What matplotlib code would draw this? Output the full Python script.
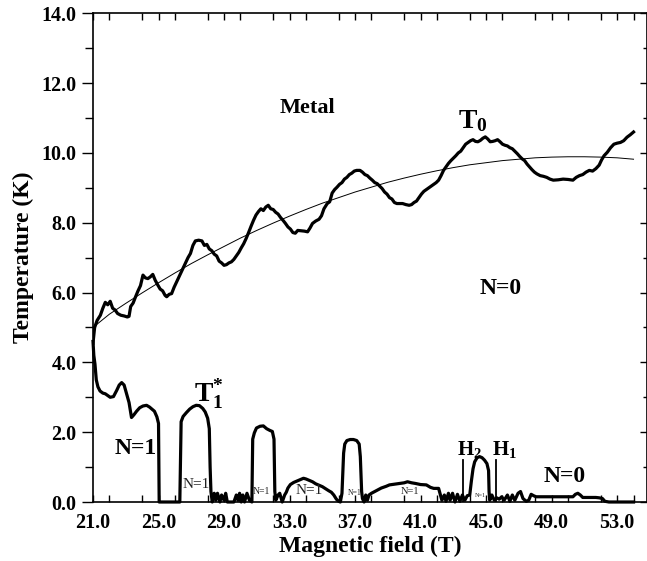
import matplotlib
matplotlib.use("Agg")
import matplotlib.pyplot as plt
from matplotlib.ticker import MultipleLocator, FormatStrFormatter

plt.rcParams['font.family'] = ['Liberation Serif', 'DejaVu Serif']
plt.rcParams['font.weight'] = 'bold'
plt.rcParams['mathtext.fontset'] = 'custom'
plt.rcParams['mathtext.rm'] = 'Liberation Serif:bold'
plt.rcParams['mathtext.bf'] = 'Liberation Serif:bold'
plt.rcParams['mathtext.it'] = 'Liberation Serif:bold'

# ---------------- data ----------------
t0_field = [21.0, 21.1, 21.25, 21.45, 21.6, 21.75, 21.9, 22.05, 22.2, 22.35, 22.5, 22.7, 22.9, 23.1, 23.2,
            23.3, 23.45, 23.6, 23.75, 23.9, 24.05, 24.2, 24.35, 24.5, 24.65, 24.8, 24.95, 25.1, 25.25, 25.4,
            25.5, 25.65, 25.8, 25.95, 26.1, 26.25, 26.4, 26.6, 26.8, 26.95, 27.1, 27.25, 27.45, 27.65, 27.8,
            27.95, 28.1, 28.25, 28.4, 28.55, 28.7, 28.85, 29.0, 29.15, 29.3, 29.45, 29.6, 29.75, 29.9, 30.05,
            30.2, 30.35, 30.5, 30.65, 30.8, 30.95, 31.1, 31.25, 31.4, 31.55, 31.7, 31.85, 32.0, 32.15, 32.3,
            32.45, 32.6, 32.75, 32.9, 33.05, 33.2, 33.35, 33.5, 33.7, 33.9, 34.1, 34.25, 34.4, 34.6, 34.8,
            34.95, 35.1, 35.3, 35.45, 35.6, 35.75, 35.9, 36.05, 36.2, 36.35, 36.5, 36.65, 36.8, 36.95, 37.1,
            37.3, 37.45, 37.6, 37.75, 37.9, 38.05, 38.2, 38.35, 38.5, 38.65, 38.8, 38.95, 39.1, 39.25, 39.4,
            39.55, 39.7, 39.9, 40.1, 40.3, 40.45, 40.6, 40.75, 40.9, 41.05, 41.2, 41.35, 41.5, 41.65, 41.8,
            41.95, 42.1, 42.25, 42.4, 42.55, 42.7, 42.85, 43.0, 43.15, 43.3, 43.45, 43.6, 43.75, 43.9, 44.05,
            44.2, 44.35, 44.5, 44.65, 44.8, 44.95, 45.1, 45.25, 45.4, 45.55, 45.7, 45.85, 46.0, 46.15, 46.3,
            46.45, 46.6, 46.75, 46.9, 47.05, 47.2, 47.35, 47.5, 47.65, 47.8, 47.95, 48.1, 48.3, 48.5, 48.7,
            48.9, 49.1, 49.4, 49.7, 50.0, 50.3, 50.5, 50.7, 50.9, 51.1, 51.3, 51.5, 51.7, 51.9, 52.05,
            52.2, 52.4, 52.6, 52.8, 53.0, 53.2, 53.4, 53.6, 53.8, 54.0]
t0_temp = [4.55, 5.0, 5.2, 5.35, 5.55, 5.72, 5.65, 5.75, 5.55, 5.5, 5.4, 5.35, 5.33, 5.3, 5.32,
           5.6, 5.7, 5.88, 6.05, 6.2, 6.5, 6.42, 6.4, 6.45, 6.52, 6.35, 6.22, 6.1, 6.05, 5.92,
           5.88, 5.95, 5.97, 6.15, 6.3, 6.45, 6.6, 6.8, 7.0, 7.12, 7.35, 7.48, 7.5, 7.48, 7.35,
           7.38, 7.25, 7.2, 7.1, 7.05, 6.9, 6.85, 6.78, 6.8, 6.85, 6.88, 6.95, 7.05, 7.15, 7.28,
           7.4, 7.55, 7.72, 7.9, 8.07, 8.22, 8.32, 8.4, 8.35, 8.45, 8.5, 8.4, 8.38, 8.3, 8.25,
           8.15, 8.07, 7.98, 7.88, 7.82, 7.72, 7.7, 7.78, 7.77, 7.76, 7.74, 7.85, 7.98, 8.05, 8.1,
           8.2, 8.4, 8.55, 8.6, 8.85, 8.95, 9.02, 9.1, 9.15, 9.25, 9.3, 9.38, 9.42, 9.48, 9.5,
           9.5, 9.45, 9.38, 9.35, 9.28, 9.22, 9.15, 9.12, 9.05, 8.98, 8.88, 8.82, 8.72, 8.68, 8.58,
           8.55, 8.55, 8.55, 8.52, 8.5, 8.52, 8.58, 8.62, 8.72, 8.82, 8.9, 8.95, 9.0, 9.05, 9.1,
           9.15, 9.22, 9.35, 9.5, 9.6, 9.7, 9.78, 9.85, 9.92, 10.0, 10.05, 10.15, 10.25, 10.3, 10.35,
           10.38, 10.33, 10.32, 10.36, 10.42, 10.46, 10.4, 10.32, 10.33, 10.35, 10.38, 10.32, 10.25, 10.22, 10.2,
           10.15, 10.12, 10.05, 9.98, 9.9, 9.83, 9.78, 9.68, 9.6, 9.52, 9.45, 9.4, 9.35, 9.33, 9.3,
           9.25, 9.22, 9.23, 9.25, 9.24, 9.22, 9.3, 9.35, 9.38, 9.45, 9.5, 9.48, 9.55, 9.65, 9.8,
           9.92, 10.02, 10.15, 10.25, 10.28, 10.3, 10.35, 10.45, 10.52, 10.6]

fit_field = [21, 22, 23, 24, 25, 26, 27, 28, 29, 30, 31, 32, 33, 34, 35, 36, 37, 38, 39, 40, 41, 42,
             43, 44, 45, 46, 47, 48, 49, 50, 51, 52, 53, 54]
fit_temp = [5.0, 5.38, 5.69, 5.99, 6.28, 6.56, 6.83, 7.08, 7.32, 7.56, 7.78, 7.99, 8.19, 8.38, 8.56,
            8.72, 8.88, 9.02, 9.16, 9.28, 9.39, 9.49, 9.58, 9.66, 9.72, 9.78, 9.82, 9.86, 9.88, 9.89,
            9.89, 9.88, 9.86, 9.82]

t1_field = [21.0, 21.05, 21.12, 21.2, 21.3, 21.43, 21.6, 21.75, 21.9, 22.05, 22.25, 22.45, 22.6, 22.75,
            22.9, 23.05, 23.2, 23.35, 23.5, 23.66, 23.85, 24.05, 24.27, 24.45, 24.6, 24.75, 24.9, 25.0,
            25.04, 26.3, 26.38, 26.5, 26.7, 26.9, 27.1, 27.3, 27.5, 27.7, 27.85, 28.0, 28.1, 28.15, 28.2,
            28.28, 28.4, 28.5, 28.6, 28.75, 28.85, 29.0, 29.1, 29.2, 29.6, 29.75, 29.85, 29.95, 30.05,
            30.15, 30.25, 30.4, 30.55, 30.7, 30.75, 30.85, 30.98, 31.2, 31.4, 31.6, 31.8, 31.95, 32.05,
            32.1, 32.16, 32.3, 32.4, 32.55, 32.7, 32.8, 32.9, 33.05, 33.25, 33.45, 33.65, 33.85, 34.0,
            34.2, 34.4, 34.6, 34.8, 35.0, 35.2, 35.4, 35.55, 35.7, 35.86, 36.0, 36.1, 36.2, 36.3, 36.37,
            36.5, 36.7, 36.9, 37.1, 37.25, 37.32, 37.4, 37.45, 37.55, 37.65, 37.75, 37.85, 38.0, 38.2,
            38.4, 38.6, 38.9, 39.1, 39.4, 39.7, 40.0, 40.2, 40.45, 40.7, 41.0, 41.35, 41.6, 41.8, 42.1,
            42.3, 42.45, 42.55, 42.7, 42.8, 42.95, 43.1, 43.25, 43.4, 43.55, 43.7, 43.85, 44.0, 44.1,
            44.2, 44.3, 44.45, 44.6, 44.75, 44.9, 45.05, 45.15, 45.18, 45.22, 45.35, 45.5, 45.65, 45.8,
            45.95, 46.1, 46.3, 46.45, 46.6, 46.75, 46.95, 47.1, 47.25, 47.45, 47.6, 47.75, 47.9, 48.05,
            48.5, 49.0, 49.5, 50.0, 50.3, 50.45, 50.6, 50.75, 50.9, 51.3, 51.7, 51.9, 52.1, 52.25, 52.5,
            53.0, 53.5, 54.0]
t1_temp = [4.6, 4.2, 3.95, 3.5, 3.3, 3.18, 3.12, 3.1, 3.05, 3.0, 3.02, 3.2, 3.35, 3.42,
           3.35, 3.1, 2.85, 2.42, 2.5, 2.6, 2.7, 2.75, 2.77, 2.72, 2.66, 2.6, 2.44, 2.25,
           0.0, 0.0, 2.3, 2.45, 2.56, 2.66, 2.73, 2.77, 2.76, 2.68, 2.58, 2.4, 2.1, 1.0, 0.3,
           0.0, 0.25, 0.05, 0.25, 0.0, 0.2, 0.05, 0.25, 0.0, 0.0, 0.2, 0.05, 0.25, 0.0,
           0.2, 0.0, 0.25, 0.05, 0.0, 1.8, 1.98, 2.12, 2.17, 2.18, 2.1, 2.05, 2.02, 1.8,
           0.3, 0.05, 0.2, 0.25, 0.0, 0.2, 0.28, 0.4, 0.5, 0.56, 0.6, 0.64, 0.68, 0.66,
           0.62, 0.58, 0.52, 0.48, 0.44, 0.38, 0.32, 0.28, 0.2, 0.08, 0.02, 0.0, 0.25, 1.4, 1.66,
           1.76, 1.79, 1.79, 1.76, 1.66, 1.3, 0.3, 0.1, 0.0, 0.2, 0.05, 0.2, 0.25, 0.3,
           0.35, 0.4, 0.45, 0.49, 0.51, 0.53, 0.55, 0.58, 0.55, 0.53, 0.5, 0.49, 0.42, 0.39, 0.39,
           0.05, 0.2, 0.02, 0.25, 0.05, 0.25, 0.0, 0.22, 0.02, 0.2, 0.05, 0.18, 0.2, 0.6,
           0.95, 1.15, 1.27, 1.3, 1.27, 1.2, 1.1, 0.9, 0.3, 0.05, 0.2, 0.05, 0.12, 0.08,
           0.15, 0.05, 0.2, 0.02, 0.2, 0.05, 0.25, 0.3, 0.1, 0.02, 0.05, 0.22, 0.18, 0.15,
           0.15, 0.15, 0.15, 0.15, 0.15, 0.22, 0.25, 0.2, 0.13, 0.13, 0.13, 0.12, 0.1, 0.02, 0.0,
           0.0, 0.0, 0.0]

h_field = [43.57, 45.58]          # H2, H1 markers
h_top = 1.2

x_major = [21, 25, 29, 33, 37, 41, 45, 49, 53]

# ---------------- figure ----------------
W, H = 647, 561
fig = plt.figure(figsize=(W / 100, H / 100), dpi=100)
ax = fig.add_axes([93 / W, 59 / H, 554 / W, 488.7 / H])

ax.plot(fit_field, fit_temp, color='black', lw=0.7)
ax.plot(t0_field, t0_temp, color='black', lw=2.3, solid_joinstyle='round')
ax.plot(t1_field, t1_temp, color='black', lw=2.3, solid_joinstyle='round', clip_on=False)
for hf in h_field:
    ax.plot([hf, hf], [0, h_top], color='black', lw=1.3)

ax.set_xlim(21, 21 + 554 / 16.38)
ax.set_ylim(0, 14)

ax.set_xticks(x_major)
ax.xaxis.set_minor_locator(MultipleLocator(2))
ax.yaxis.set_major_locator(MultipleLocator(2))
ax.yaxis.set_minor_locator(MultipleLocator(1))
ax.xaxis.set_major_formatter(FormatStrFormatter('%.1f'))
ax.yaxis.set_major_formatter(FormatStrFormatter('%.1f'))

ax.tick_params(axis='x', which='both', direction='in', top=True, bottom=True,
               length=5, width=1, labelsize=14.5, pad=8)
ax.tick_params(axis='y', which='major', direction='out', left=True, right=False,
               length=8, width=1, labelsize=14.5, pad=4)
ax.tick_params(axis='y', which='minor', direction='out', left=True, right=False,
               length=6, width=1)
for lab in ax.get_xticklabels() + ax.get_yticklabels():
    lab.set_fontweight('bold')

sec = ax.secondary_yaxis('right')
sec.yaxis.set_major_locator(MultipleLocator(2))
sec.yaxis.set_minor_locator(MultipleLocator(1))
sec.tick_params(which='major', direction='in', length=5, width=1, labelright=False)
sec.tick_params(which='minor', direction='in', length=3, width=1)

for s in ax.spines.values():
    s.set_linewidth(1.2)

ax.set_xlabel('Magnetic field (T)', fontsize=17, fontweight='bold', labelpad=2)
ax.set_ylabel('Temperature (K)', fontsize=17, fontweight='bold', labelpad=5)

# annotations
ax.text(32.4, 11.3, 'Metal', fontsize=16, fontweight='bold', ha='left', va='center')
ax.text(43.3, 10.7, r'$\mathbf{T}_{\mathbf{0}}$', fontsize=20, ha='left', va='baseline')
ax.text(27.15, 2.87, r'$\mathbf{T}^{*}_{\mathbf{1}}$', fontsize=20, ha='left', va='baseline')
ax.text(45.9, 6.13, 'N=0', fontsize=17, fontweight='bold', ha='center', va='center')
ax.text(23.6, 1.52, 'N=1', fontsize=17, fontweight='bold', ha='center', va='center')
ax.text(49.8, 0.74, 'N=0', fontsize=17, fontweight='bold', ha='center', va='center')
ax.text(43.2, 1.35, r'$\mathbf{H}_{\mathbf{2}}$', fontsize=15, ha='left', va='baseline')
ax.text(45.35, 1.35, r'$\mathbf{H}_{\mathbf{1}}$', fontsize=15, ha='left', va='baseline')

small_n1 = [(27.3, 0.5, 11), (31.3, 0.3, 7), (34.2, 0.32, 11), (37.0, 0.25, 5.5),
            (40.35, 0.3, 7.5), (44.65, 0.2, 4.5)]
for fx, fy, fs in small_n1:
    ax.text(fx, fy, 'N=1', fontsize=fs, fontweight='normal', ha='center', va='center',
            color='#222222')

fig.savefig('out.png', dpi=100)
